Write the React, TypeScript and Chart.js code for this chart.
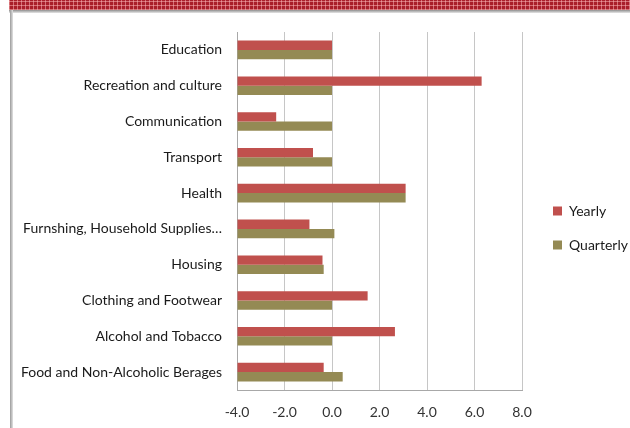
import React, { useEffect, useRef } from "react";
import { Chart, registerables } from "chart.js";

Chart.register(...registerables);

const categories = [
  "Education",
  "Recreation and culture",
  "Communication",
  "Transport",
  "Health",
  "Furnshing, Household Supplies…",
  "Housing",
  "Clothing and Footwear",
  "Alcohol and Tobacco",
  "Food and Non-Alcoholic Berages",
];
const seriesNames = ["Yearly", "Quarterly"];
const yearly = [0.0, 6.3, -2.35, -0.8, 3.1, -0.95, -0.4, 1.5, 2.65, -0.35];
const quarterly = [0.0, 0.0, 0.0, 0.0, 3.1, 0.1, -0.35, 0.0, 0.0, 0.45];
const xTicks = [-4, -2, 0, 2, 4, 6, 8];
const axisBase = -4;

const FONT = 'Lato, "Open Sans", "DejaVu Sans", sans-serif';

export default function App() {
  const ref = useRef<HTMLCanvasElement>(null);

  useEffect(() => {
    document.body.style.margin = "0";
    const legendPlacer = {
      id: "legendPlacer",
      afterInit(chart: any) {
        const lg = chart.legend;
        if (!lg) return;
        const origFit = lg.fit.bind(lg);
        lg.fit = function () {
          origFit();
          this.width = 108;
        };
      },
      afterLayout(chart: any) {
        const lg = chart.legend;
        if (!lg) return;
        lg.left = 533;
        lg.top = 184;
      },
    };

    const chart = new Chart(ref.current!, {
      type: "bar",
      data: {
        labels: categories,
        datasets: [
          {
            label: seriesNames[0],
            data: yearly,
            backgroundColor: "#C0504D",
            borderWidth: 0,
            base: axisBase,
            categoryPercentage: 0.52,
            barPercentage: 1,
          } as any,
          {
            label: seriesNames[1],
            data: quarterly,
            backgroundColor: "#948A54",
            borderWidth: 0,
            base: axisBase,
            categoryPercentage: 0.52,
            barPercentage: 1,
          } as any,
        ],
      },
      options: {
        indexAxis: "y",
        animation: false,
        responsive: true,
        maintainAspectRatio: false,
        layout: { padding: { left: 12, top: 32, right: 0, bottom: 0 } },
        scales: {
          x: {
            type: "linear",
            min: -4,
            max: 8,
            afterBuildTicks: (s: any) => {
              s.ticks = xTicks.map((v) => ({ value: v }));
            },
            afterFit: (s: any) => {
              s.height = 38;
            },
            ticks: {
              padding: 14,
              color: "#333",
              font: { family: FONT, size: 14 },
              callback: (v: any) => Number(v).toFixed(1),
            },
            grid: { color: "#c6c6c6", lineWidth: 1, drawTicks: false },
            border: { display: true, color: "#a8a8a8" },
          },
          y: {
            afterFit: (s: any) => {
              s.width = 225;
            },
            ticks: {
              padding: 15,
              color: "#1a1a1a",
              font: { family: FONT, size: 14 },
            },
            grid: { display: false, drawTicks: false },
            border: { display: true, color: "#a8a8a8" },
          },
        },
        plugins: {
          legend: {
            position: "right",
            align: "start",
            labels: {
              boxWidth: 9,
              boxHeight: 9,
              padding: 20,
              color: "#1a1a1a",
              font: { family: FONT, size: 14 },
            },
          },
          tooltip: { enabled: false },
        },
      },
      plugins: [legendPlacer],
    });
    return () => chart.destroy();
  }, []);

  return (
    <div
      style={{
        position: "relative",
        width: 630,
        height: 428,
        background: "#fff",
        overflow: "hidden",
      }}
    >
      <div
        style={{
          position: "absolute",
          left: 9,
          top: 0,
          width: 621,
          height: 10,
          background:
            "repeating-linear-gradient(90deg, rgba(255,190,190,0.5) 0 1px, transparent 1px 4px), repeating-linear-gradient(0deg, rgba(255,190,190,0.5) 0 1px, transparent 1px 4px), #a91f2a",
        }}
      />
      <div
        style={{
          position: "absolute",
          left: 9,
          top: 10,
          width: 621,
          height: 3,
          background: "linear-gradient(#8f8f8f, #e6e6e6)",
        }}
      />
      <div
        style={{
          position: "absolute",
          left: 10,
          top: 10,
          width: 3,
          height: 418,
          background: "linear-gradient(90deg, #9a9a9a, #e2e2e2)",
        }}
      />
      <div style={{ position: "absolute", left: 0, top: 0, width: 630, height: 428 }}>
        <canvas ref={ref} />
      </div>
    </div>
  );
}
